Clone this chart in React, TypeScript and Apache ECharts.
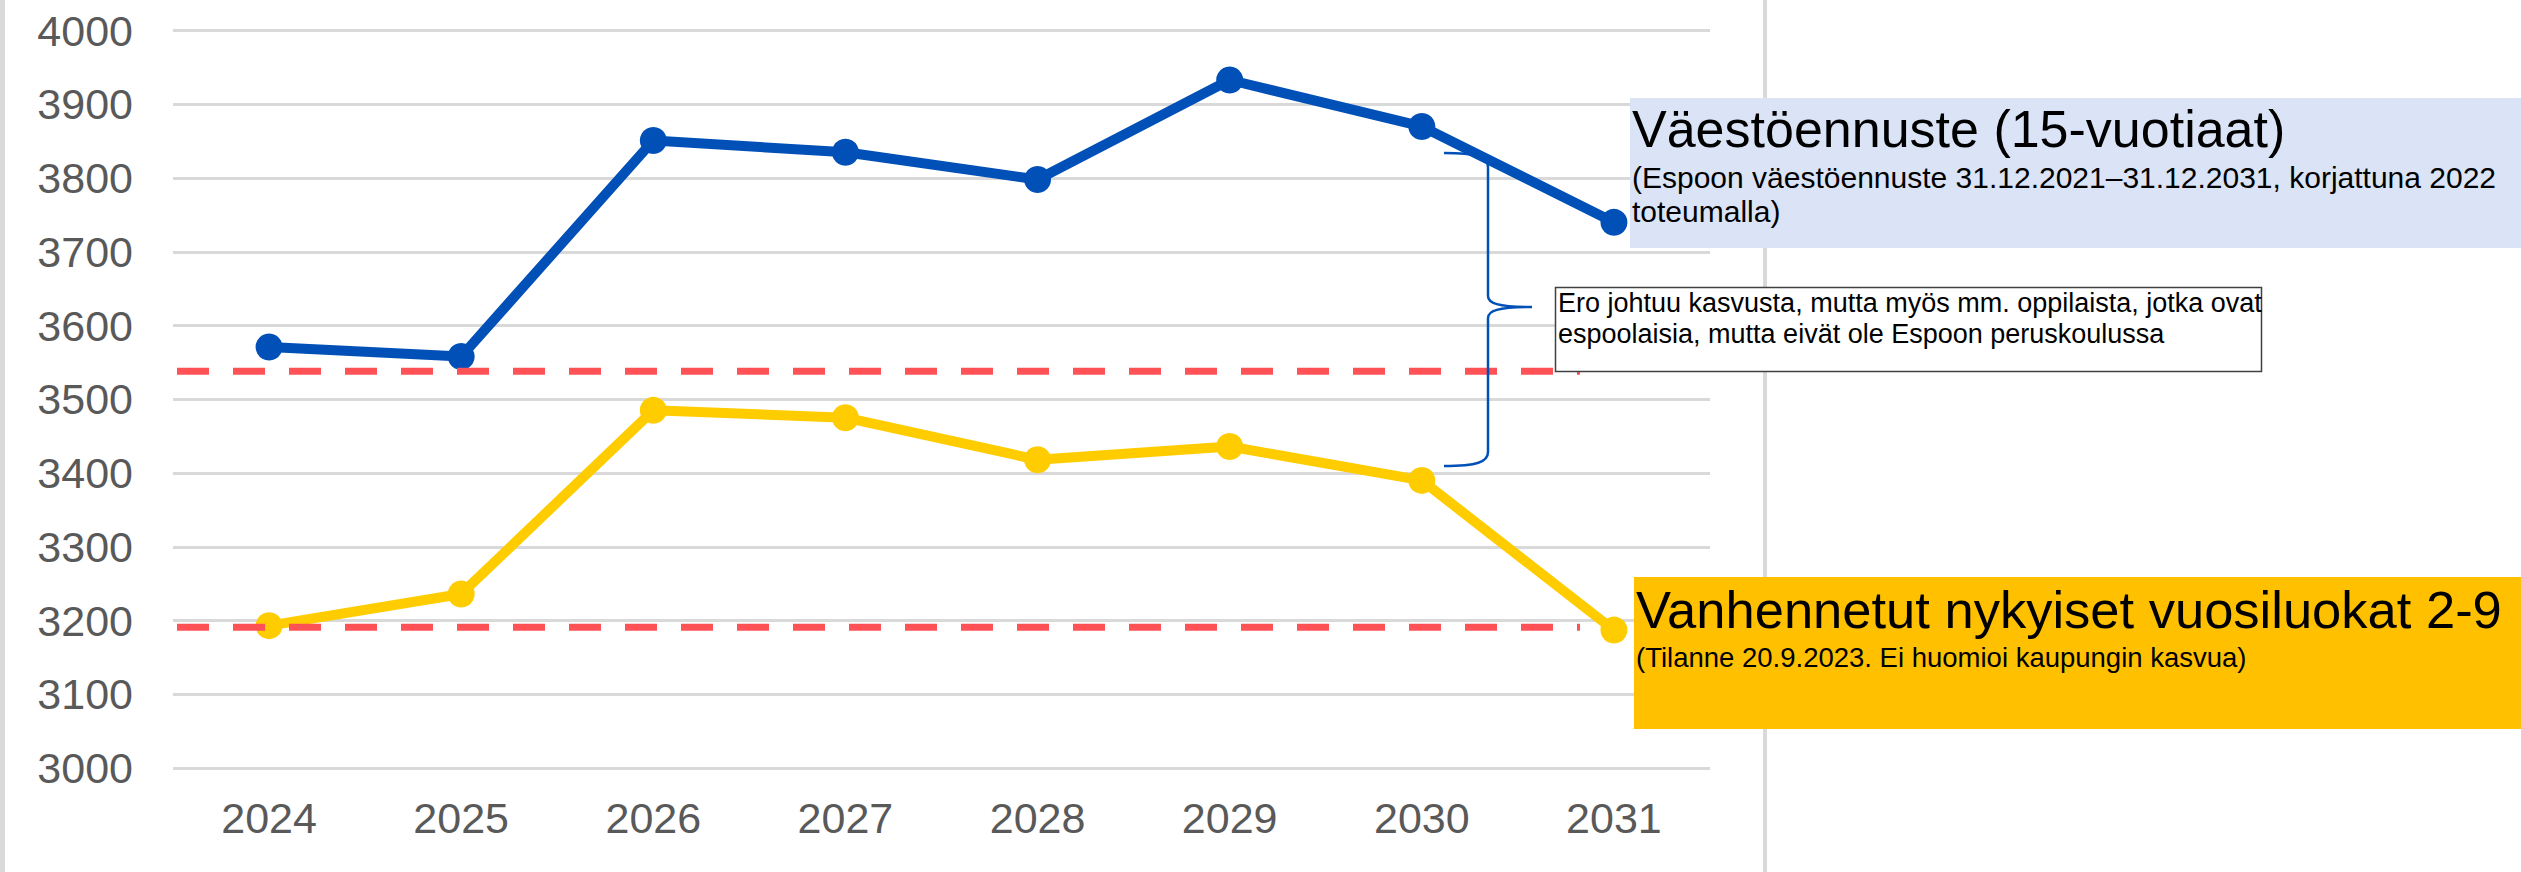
import React, { useEffect, useRef } from "react";
import * as echarts from "echarts";

const years = ["2024", "2025", "2026", "2027", "2028", "2029", "2030", "2031"];
const populationForecast = [3571, 3558, 3851, 3835, 3798, 3933, 3870, 3740];
const currentGrades = [3193, 3236, 3485, 3475, 3418, 3436, 3390, 3187];
const referenceLevels = [3538, 3191];
const yMin = 3000;
const yMax = 4000;
const yStep = 100;

const forecastTitle = "Väestöennuste (15-vuotiaat)";
const forecastNote = [
  "(Espoon väestöennuste 31.12.2021–31.12.2031, korjattuna 2022",
  "toteumalla)",
];
const gradesTitle = "Vanhennetut nykyiset vuosiluokat 2-9";
const gradesNote = "(Tilanne 20.9.2023. Ei huomioi kaupungin kasvua)";
const commentLines = [
  "Ero johtuu kasvusta, mutta myös mm. oppilaista, jotka ovat",
  "espoolaisia, mutta eivät ole Espoon peruskoulussa",
];

const FONT = '"Liberation Sans", Arial, sans-serif';
const BLUE = "#0050B8";
const YELLOW = "#FFCC00";
const RED = "#FF5257";
const GRID = "#D9D9D9";

const braceD =
  "M1444 153 C1477 153 1488 157 1488 167 L1488 296 C1488 303 1497 307 1532 307 " +
  "M1532 307 C1497 307 1488 311 1488 318 L1488 452 C1488 462 1477 466 1444 466";

let braceRegistered = false;

function txt(x: number, y: number, text: string, size: number, z = 120) {
  return {
    type: "text",
    x,
    y,
    z,
    style: {
      text,
      fill: "#000",
      fontSize: size,
      fontFamily: FONT,
      align: "left",
      verticalAlign: "middle",
    },
  };
}

export default function App() {
  const ref = useRef<HTMLDivElement>(null);

  useEffect(() => {
    if (!ref.current) return;
    if (!braceRegistered) {
      echarts.graphic.registerShape("brace", echarts.graphic.extendPath(braceD, {}));
      braceRegistered = true;
    }
    const chart = echarts.init(ref.current, undefined, { renderer: "svg" });
    chart.setOption({
      animation: false,
      backgroundColor: "#fff",
      grid: { left: 173, right: 811, top: 30.6, bottom: 104, containLabel: false },
      xAxis: {
        type: "category",
        data: years,
        boundaryGap: true,
        axisLine: { show: false },
        axisTick: { show: false },
        axisLabel: {
          color: "#595959",
          fontSize: 43,
          fontFamily: FONT,
          margin: 28,
        },
      },
      yAxis: {
        type: "value",
        min: yMin,
        max: yMax,
        interval: yStep,
        axisLine: { show: false },
        axisTick: { show: false },
        axisLabel: {
          color: "#595959",
          fontSize: 43,
          fontFamily: FONT,
          margin: 40,
          formatter: (v: number) => String(v),
        },
        splitLine: { lineStyle: { color: GRID, width: 3 } },
      },
      series: [
        {
          name: "Väestöennuste",
          type: "line",
          data: populationForecast,
          symbol: "circle",
          symbolSize: 27,
          lineStyle: { color: BLUE, width: 10 },
          itemStyle: { color: BLUE },
          z: 3,
        },
        {
          name: "Vuosiluokat",
          type: "line",
          data: currentGrades,
          symbol: "circle",
          symbolSize: 27,
          lineStyle: { color: YELLOW, width: 10 },
          itemStyle: { color: YELLOW },
          z: 3,
        },
      ],
    });

    const dashY = referenceLevels.map((v) =>
      chart.convertToPixel({ yAxisIndex: 0 }, v) as number
    );

    const graphics: any[] = [
      { type: "rect", z: 50, shape: { x: 0, y: 0, width: 5, height: 872 }, style: { fill: GRID } },
      { type: "rect", z: 50, shape: { x: 1763, y: 0, width: 4, height: 872 }, style: { fill: GRID } },
      ...dashY.map((y) => ({
        type: "line",
        z: 60,
        shape: { x1: 177, y1: y, x2: 1580, y2: y },
        style: { stroke: RED, lineWidth: 7, lineDash: [32, 24] },
      })),
      { type: "rect", z: 100, shape: { x: 1630, y: 98, width: 891, height: 150 }, style: { fill: "#DAE4F6" } },
      { type: "rect", z: 100, shape: { x: 1634, y: 577, width: 887, height: 152 }, style: { fill: "#FFC000" } },
      {
        type: "rect",
        z: 100,
        shape: { x: 1555.5, y: 287.5, width: 706, height: 84 },
        style: { fill: "#fff", stroke: "#404040", lineWidth: 1.5 },
      },
      {
        type: "brace",
        z: 100,
        style: { stroke: BLUE, lineWidth: 2.5, fill: "none" },
      },
      txt(1632, 129, forecastTitle, 52),
      txt(1632, 177, forecastNote[0], 30),
      txt(1632, 211, forecastNote[1], 30),
      txt(1636, 609, gradesTitle, 52.5),
      txt(1636, 657, gradesNote, 27.5),
      txt(1558, 303, commentLines[0], 27),
      txt(1558, 334, commentLines[1], 27),
    ];
    chart.setOption({ graphic: graphics });

    return () => chart.dispose();
  }, []);

  return (
    <div
      ref={ref}
      style={{ position: "fixed", left: 0, top: 0, width: 2521, height: 872, background: "#fff" }}
    />
  );
}
